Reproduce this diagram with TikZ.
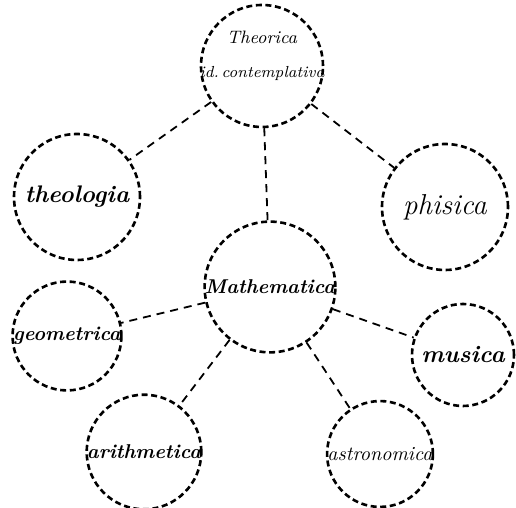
\documentclass[tikz,border=0pt]{standalone}
\usepackage{tikz}
\usetikzlibrary{positioning}

\begin{document}
\begin{tikzpicture}[x=0.5pt,y=0.5pt,
    orb/.style={draw, circle, inner sep=0pt, align=center,
                dash pattern=on 3pt off 1.8pt, line width=1.3pt,
                font=\bfseries\itshape},
    link/.style={dash pattern=on 4pt off 3pt, line width=0.9pt}]
    \useasboundingbox (0,0) rectangle (516,508);
    % top
    \node[orb, minimum size=61pt,
          label={[font=\itshape, align=center, yshift=5pt]center:%
                 {\small Theorica}\\[5pt]{\footnotesize id.\,contemplativa}}]
        (theorica) at (262,442) {};
    \node[orb, minimum size=63pt] (theologia) at (77,311) {\large theologia};
    \node[orb, minimum size=63pt] (phisica) at (445,301) {\Large\mdseries phisica};
    % middle
    \node[orb, minimum size=62pt] (mathematica) at (270,221) {Mathematica};
    \node[orb, minimum size=53pt] (geometrica) at (67,172) {geometrica};
    \node[orb, minimum size=51pt] (musica) at (463,153) {\large musica};
    \node[orb, minimum size=51pt] (arithmetica) at (144,56) {arithmetica};
    \node[orb, minimum size=52pt] (astronomica) at (380,54) {\mdseries astronomica};
    % links
    \draw[link] (theorica) -- (theologia);
    \draw[link] (theorica) -- (phisica);
    \draw[link] (theorica) -- (mathematica);
    \draw[link] (mathematica) -- (geometrica);
    \draw[link] (mathematica) -- (musica);
    \draw[link] (mathematica) -- (arithmetica);
    \draw[link] (mathematica) -- (astronomica);
\end{tikzpicture}
\end{document}
